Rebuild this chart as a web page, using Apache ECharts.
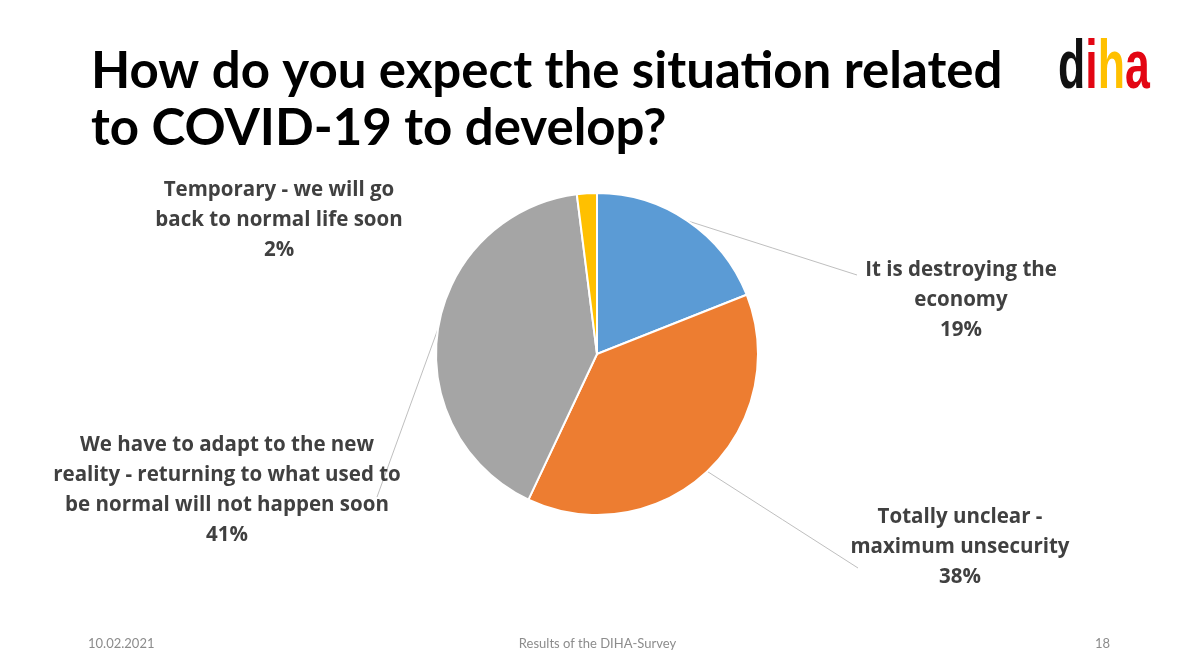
<!DOCTYPE html>
<html>
<head>
<meta charset="utf-8">
<script src="https://cdn.jsdelivr.net/npm/echarts@6/dist/echarts.min.js"></script>
<style>
html,body{margin:0;padding:0;background:#fff;}
#chart{width:1195px;height:669px;}
</style>
</head>
<body>
<div id="chart"></div>
<script>
var categories = [
  'It is destroying the\neconomy',
  'Totally unclear -\nmaximum unsecurity',
  'We have to adapt to the new\nreality - returning to what used to\nbe normal will not happen soon',
  'Temporary - we will go\nback to normal life soon'
];
var values = [19, 38, 41, 2];
var colors = ['#5B9BD5', '#ED7D31', '#A5A5A5', '#FFC000'];
var titleText = 'How do you expect the situation related\nto COVID-19 to develop?';
var footerDate = '10.02.2021';
var footerMid = 'Results of the DIHA-Survey';
var footerPage = '18';

var chart = echarts.init(document.getElementById('chart'));

// label anchor centres and label-line end offsets (relative to anchor)
var labelAnchors = [[961, 300], [960, 547], [227, 490], [279, 220]];
var lineEnds = [[-104, -25], [-102, 21], [150, 7], null];

chart.setOption({
  backgroundColor: '#ffffff',
  animation: false,
  title: {
    text: titleText,
    left: 86,
    top: 38,
    textStyle: {
      fontFamily: 'Lato',
      fontWeight: 'bold',
      fontSize: 51,
      lineHeight: 57,
      color: '#000000'
    }
  },
  graphic: [
    {
      type: 'text', left: 1058, top: 34, scaleX: 0.72, scaleY: 1.12,
      style: {
        text: '{d|d}{i|i}{h|h}{a|a}',
        font: 'bold 62px "Liberation Sans"',
        rich: {
          d: {fill: '#111111', fontSize: 62, fontWeight: 'bold', fontFamily: 'Liberation Sans'},
          i: {fill: '#E30613', fontSize: 62, fontWeight: 'bold', fontFamily: 'Liberation Sans'},
          h: {fill: '#FFC000', fontSize: 62, fontWeight: 'bold', fontFamily: 'Liberation Sans'},
          a: {fill: '#E30613', fontSize: 62, fontWeight: 'bold', fontFamily: 'Liberation Sans'}
        }
      }
    },
    {
      type: 'text', left: 88, top: 637,
      style: {text: footerDate, fill: '#8c8c8c', font: '13px Lato'}
    },
    {
      type: 'text', left: 'center', top: 637,
      style: {text: footerMid, fill: '#8c8c8c', font: '13px Lato'}
    },
    {
      type: 'text', left: 1095, top: 637,
      style: {text: footerPage, fill: '#8c8c8c', font: '13px Lato'}
    }
  ],
  series: [{
    type: 'pie',
    center: [597, 354],
    radius: 161,
    startAngle: 90,
    clockwise: true,
    avoidLabelOverlap: false,
    itemStyle: {borderColor: '#ffffff', borderWidth: 2},
    label: {
      show: true,
      formatter: function (p) { return p.name + '\n' + p.value + '%'; },
      fontFamily: 'Open Sans',
      fontWeight: 'bold',
      fontSize: 20.5,
      lineHeight: 30,
      color: '#404040',
      align: 'center'
    },
    labelLine: {
      show: true,
      length: 20,
      length2: 20,
      lineStyle: {color: '#bfbfbf', width: 1}
    },
    labelLayout: function (params) {
      var i = params.dataIndex;
      var a = labelAnchors[i];
      var res = {x: a[0], y: a[1], align: 'center', verticalAlign: 'middle'};
      var e = lineEnds[i];
      if (e && params.labelLinePoints) {
        var p0 = params.labelLinePoints[0];
        var end = [a[0] + e[0], a[1] + e[1]];
        res.labelLinePoints = [p0, [(p0[0] + end[0]) / 2, (p0[1] + end[1]) / 2], end];
      }
      return res;
    },
    data: categories.map(function (c, i) {
      var d = {name: c, value: values[i], itemStyle: {color: colors[i]}};
      if (i === 3) d.labelLine = {show: false};
      return d;
    })
  }]
});
</script>
</body>
</html>
